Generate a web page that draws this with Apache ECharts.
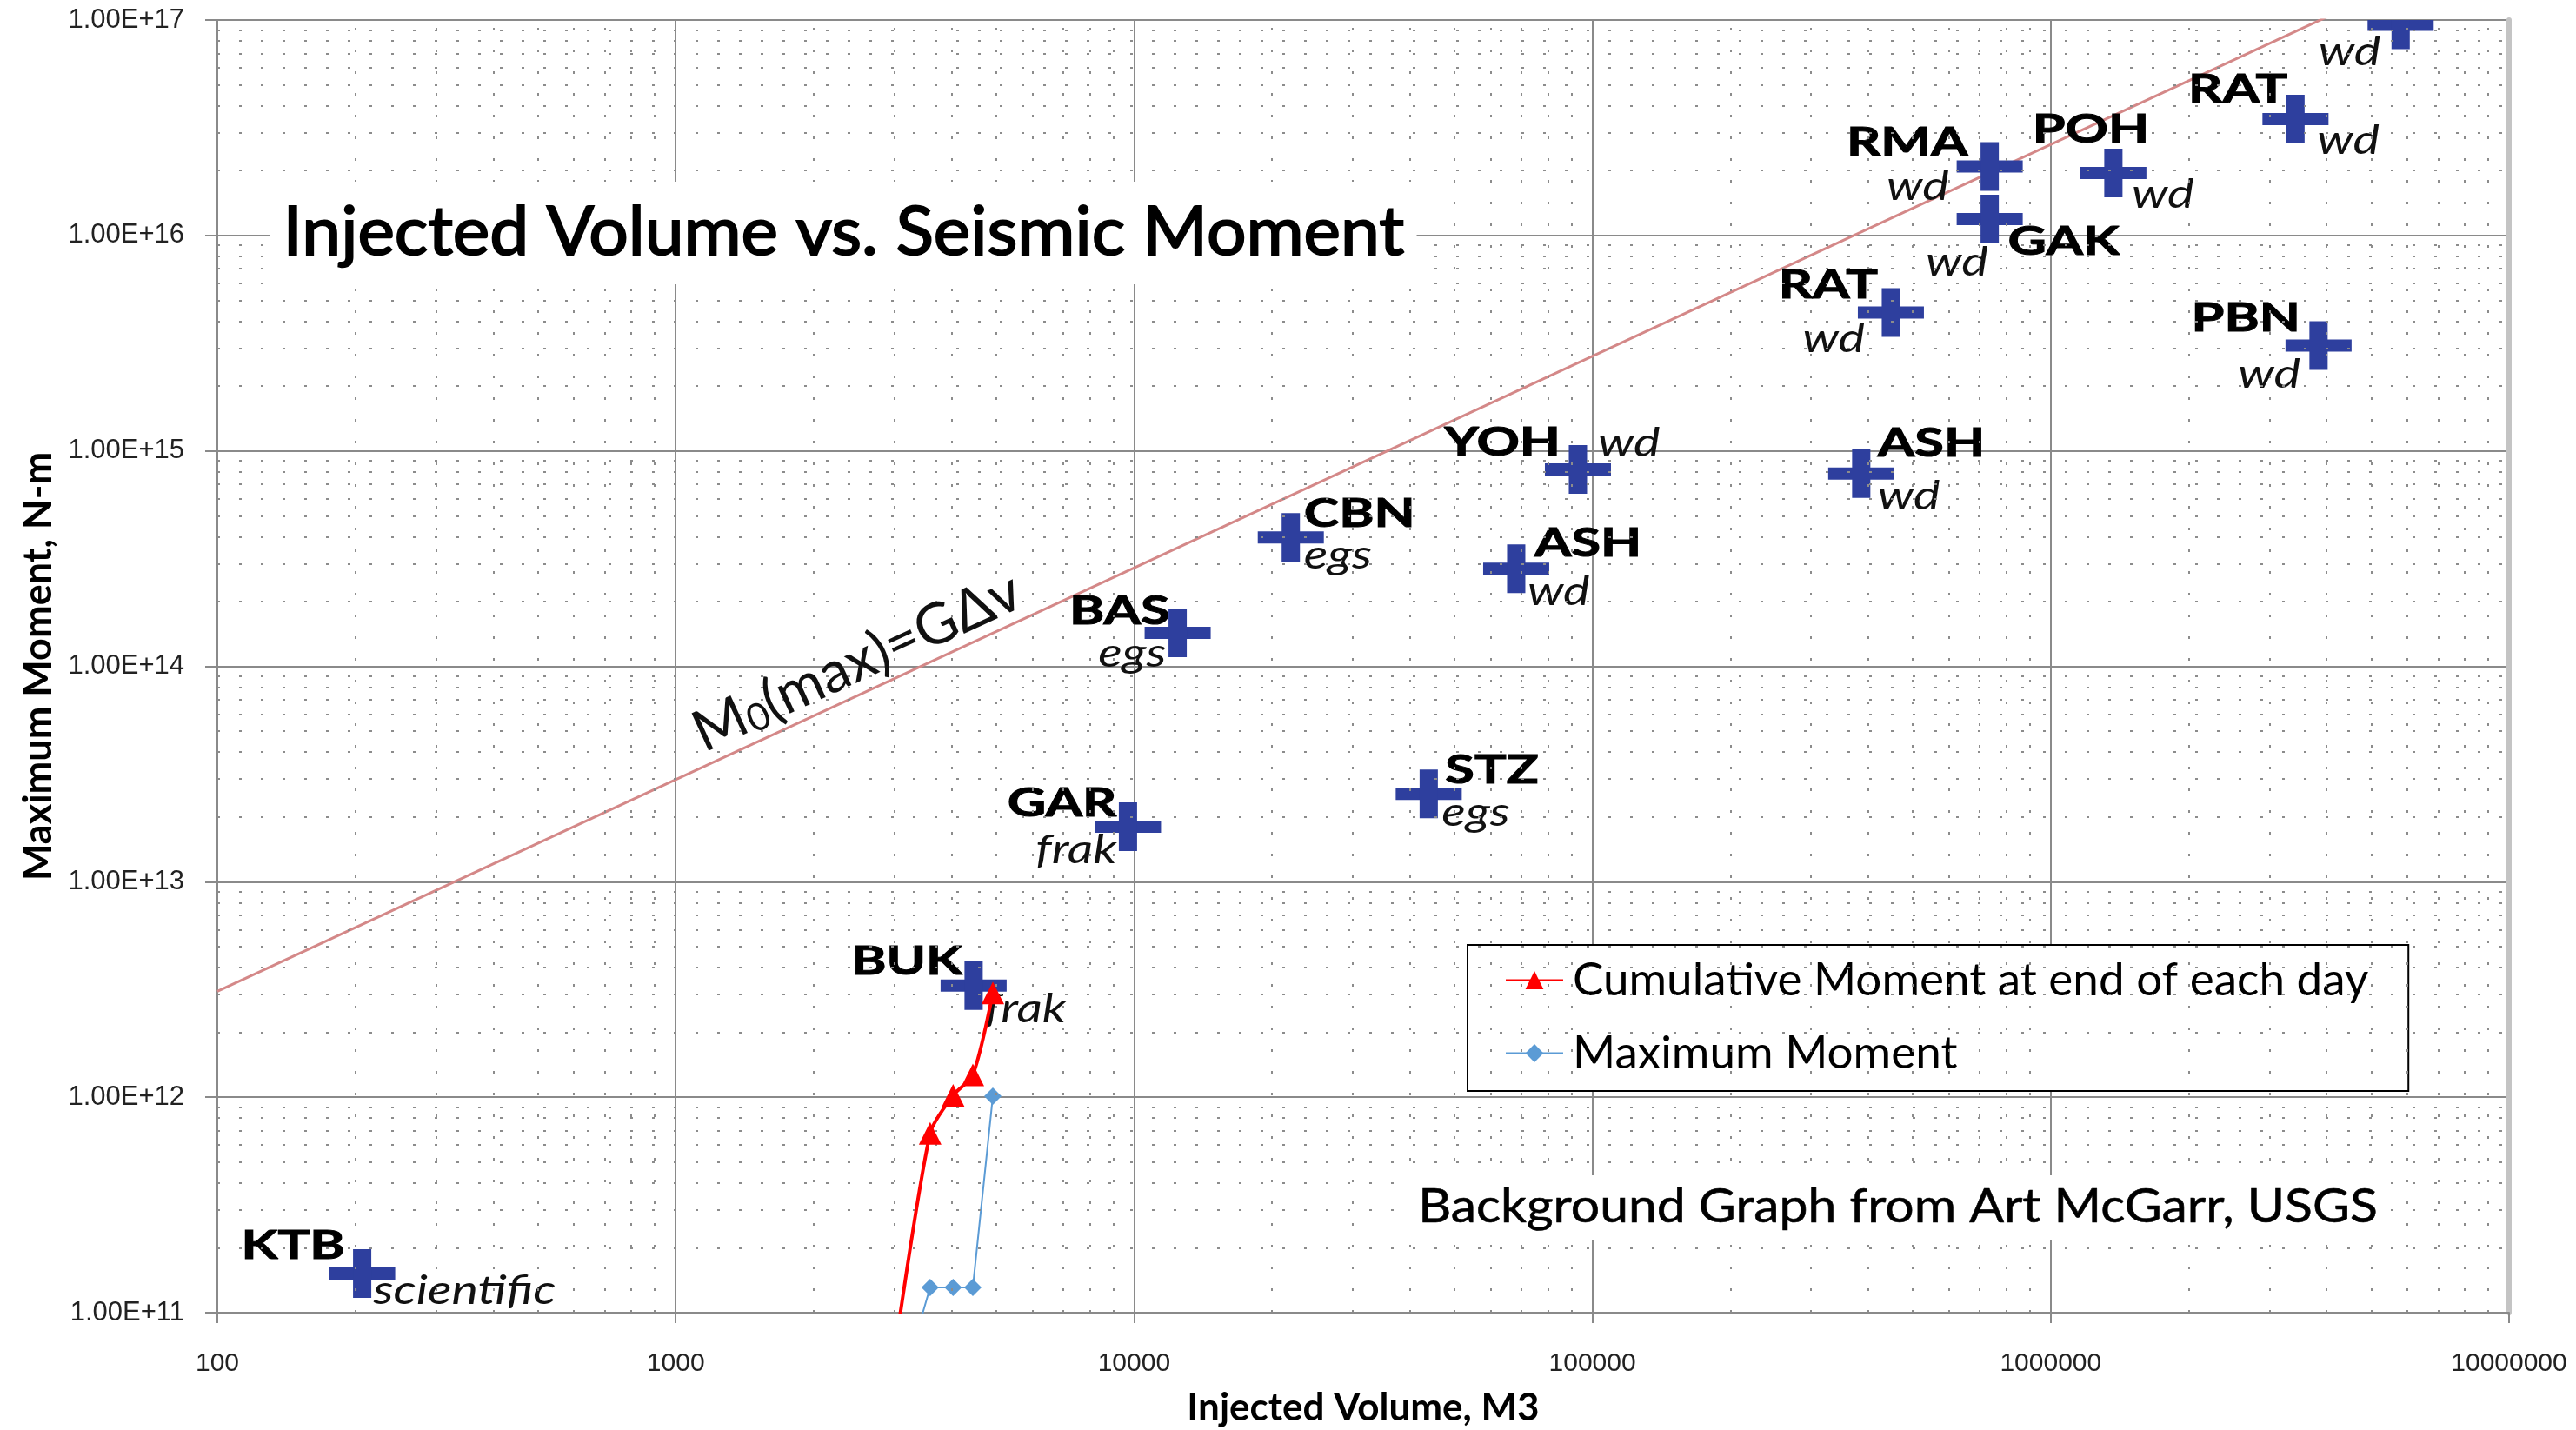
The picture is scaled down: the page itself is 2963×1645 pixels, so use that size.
<!DOCTYPE html>
<html>
<head>
<meta charset="utf-8">
<title>Injected Volume vs. Seismic Moment</title>
<script src="https://cdn.jsdelivr.net/npm/echarts@6/dist/echarts.min.js"></script>
<style>
  html, body { margin: 0; padding: 0; background: #fff; }
  #chart { width: 2963px; height: 1645px; }
</style>
</head>
<body>
<div id="chart"></div>
<script>
// sites on the background graph (McGarr)
const siteNames = ['KTB', 'BUK', 'GAR', 'BAS', 'CBN', 'STZ', 'ASH', 'YOH', 'ASH', 'RAT', 'GAK', 'RMA', 'POH', 'RAT', 'PBN', ''];
const siteTypes = ['scientific', 'frak', 'frak', 'egs', 'egs', 'egs', 'wd', 'wd', 'wd', 'wd', 'wd', 'wd', 'wd', 'wd', 'wd', 'wd'];
const siteVolume = [207, 4467, 9700, 12450, 21980, 43950, 68200, 93000, 386000, 448000, 736000, 736000, 1370000, 3420000, 3840000, 5800000];
const siteMoment = [1.52e11, 3.3e12, 1.8e13, 1.43e14, 3.96e14, 2.56e13, 2.84e14, 8.2e14, 7.85e14, 4.39e15, 1.19e16, 2.09e16, 1.95e16, 3.47e16, 3.08e15, 9.5e16];

// daily values
const cumVolume = [2950, 3590, 4030, 4450, 4920];
const cumMoment = [5e10, 6.8e11, 1.02e12, 1.27e12, 3.05e12];
const maxVolume = [3150, 3590, 4030, 4450, 4920];
const maxMoment = [5e10, 1.31e11, 1.31e11, 1.31e11, 1.01e12];

// M0(max) = G dV limit line
const limitVolume = [100, 1e7];
const limitMoment = [3.1e12, 2.54e17];

// axis decades and the 2..9 minor lines
const xDecades = [100, 1000, 10000, 100000, 1000000];
const yDecades = [1e11, 1e12, 1e13, 1e14, 1e15, 1e16];
const minorSteps = [2, 3, 4, 5, 6, 7, 8, 9];

// label placement around each cross: [name align, dx, dy, type align, dx, dy]
const labelLayout = [
  ['right', -20, -31, 'left', 13, 20],
  ['right', -13, -27, 'left', 13, 28],
  ['right', -13, -27, 'right', -13, 27],
  ['right', -9, -25, 'right', -13, 24],
  ['left', 15, -27, 'left', 15, 21],
  ['left', 19, -27, 'left', 15, 22],
  ['left', 21, -29, 'left', 13, 27],
  ['right', -20, -31, 'left', 23, -30],
  ['left', 19, -34, 'left', 19, 26],
  ['right', -15, -31, 'right', -30, 31],
  ['left', 21, 26, 'right', -2, 50],
  ['right', -25, -27, 'right', -47, 24],
  ['center', -26, -49, 'left', 21, 25],
  ['right', -9, -33, 'left', 25, 25],
  ['right', -21, -31, 'right', -21, 34],
  ['right', 0, 0, 'right', -23, 32]
];

const crossColor = '#2E3F9E';
const gridColor = '#8a8a8a';

const minorLines = [];
xDecades.forEach(d => minorSteps.forEach(s => minorLines.push({ xAxis: d * s })));
yDecades.forEach(d => minorSteps.forEach(s => minorLines.push({ yAxis: d * s })));

function renderSite(params, api) {
  const c = api.coord([api.value(0), api.value(1)]);
  const i = params.dataIndex;
  const L = labelLayout[i];
  const kids = [
    { type: 'rect', shape: { x: c[0] - 38, y: c[1] - 7, width: 76, height: 14 }, style: { fill: crossColor } },
    { type: 'rect', shape: { x: c[0] - 10.5, y: c[1] - 28, width: 21, height: 56 }, style: { fill: crossColor } }
  ];
  if (siteNames[i]) {
    kids.push({
      type: 'text', x: c[0] + L[1], y: c[1] + L[2], scaleX: 1.36,
      style: { text: siteNames[i], fontFamily: 'Lato', fontWeight: 'bold', fontSize: 45, fill: '#000',
        stroke: '#000', lineWidth: 1, align: L[0], verticalAlign: 'middle' }
    });
  }
  kids.push({
    type: 'text', x: c[0] + L[4], y: c[1] + L[5], scaleX: 1.25,
    style: { text: siteTypes[i], fontFamily: 'Lato', fontStyle: 'italic', fontSize: 46, fill: '#111', align: L[3], verticalAlign: 'middle' }
  });
  return { type: 'group', children: kids };
}

const chart = echarts.init(document.getElementById('chart'));

chart.setOption({
  animation: false,
  backgroundColor: '#fff',
  grid: { left: 250, right: 77, top: 23, bottom: 135, containLabel: false, outerBoundsMode: 'none' },
  legend: {
    data: ['Cumulative Moment at end of each day', 'Maximum Moment'],
    orient: 'vertical',
    left: 1688,
    top: 1087,
    padding: [14, 46, 17, 43],
    itemGap: 31,
    itemWidth: 66,
    itemHeight: 26,
    backgroundColor: '#fff',
    borderColor: '#000',
    borderWidth: 2,
    selectedMode: false,
    textStyle: { fontFamily: 'Lato', fontSize: 53, lineHeight: 50, color: '#000', padding: [0, 0, 0, 6] }
  },
  xAxis: {
    type: 'log',
    logBase: 10,
    min: 100,
    max: 1e7,
    splitNumber: 5,
    name: 'Injected Volume, M3',
    nameLocation: 'middle',
    nameGap: 88,
    nameTextStyle: { fontFamily: 'Lato', fontWeight: 'bold', fontSize: 44, color: '#000' },
    axisLine: { lineStyle: { color: gridColor, width: 2 } },
    axisTick: { show: true, length: 12, lineStyle: { color: gridColor, width: 2 } },
    axisLabel: { fontFamily: 'Liberation Sans', fontSize: 30, color: '#222', margin: 44, formatter: v => String(Math.round(v)) },
    splitLine: { show: true, lineStyle: { color: gridColor, width: 2 } }
  },
  yAxis: [{
    type: 'log',
    logBase: 10,
    min: 1e11,
    max: 1e17,
    splitNumber: 6,
    name: 'Maximum Moment, N-m',
    nameLocation: 'middle',
    nameGap: 183,
    nameTextStyle: { fontFamily: 'Lato', fontWeight: 'bold', fontSize: 45, color: '#000' },
    axisLine: { show: true, lineStyle: { color: gridColor, width: 2 } },
    axisTick: { show: true, length: 14, lineStyle: { color: gridColor, width: 2 } },
    axisLabel: { fontFamily: 'Liberation Sans', fontSize: 31, color: '#222', margin: 38, formatter: v => v.toExponential(2).toUpperCase() },
    splitLine: { show: true, lineStyle: { color: gridColor, width: 2 } }
  }, {
    type: 'log',
    logBase: 10,
    min: 1e11,
    max: 1e17,
    position: 'right',
    axisLine: { show: true, lineStyle: { color: '#c4c4c4', width: 6 } },
    axisTick: { show: false },
    axisLabel: { show: false },
    splitLine: { show: false }
  }],
  graphic: { elements: [
    {
      type: 'text', x: 311, y: 268, scaleX: 1.03, z: 10,
      style: { text: 'Injected Volume vs. Seismic Moment', fontFamily: 'Lato', fontSize: 78, fill: '#000',
        stroke: '#000', lineWidth: 2, align: 'left', verticalAlign: 'middle', backgroundColor: '#fff', padding: [20, 14] }
    },
    {
      type: 'text', x: 2183, y: 1389, scaleX: 1.09, z: 10,
      style: { text: 'Background Graph from Art McGarr, USGS', fontFamily: 'Lato', fontSize: 54, fill: '#000',
        stroke: '#000', lineWidth: 0.6, align: 'center', verticalAlign: 'middle', backgroundColor: '#fff', padding: [10, 12] }
    },
    {
      type: 'text', x: 985, y: 760, rotation: 0.43, z: 10,
      style: {
        text: '{m|M}{s|0}{m|(max)=G\u0394v}', align: 'center', verticalAlign: 'middle', fill: '#111',
        rich: {
          m: { fontFamily: 'Lato', fontSize: 66, lineHeight: 70, verticalAlign: 'bottom', fill: '#111' },
          s: { fontFamily: 'Lato', fontSize: 44, lineHeight: 44, verticalAlign: 'bottom', fill: '#111' }
        }
      }
    }
  ] },
  series: [
    {
      name: 'minor grid',
      type: 'line',
      data: [],
      silent: true,
      z: 1,
      markLine: {
        silent: true,
        symbol: ['none', 'none'],
        label: { show: false },
        emphasis: { disabled: true },
        lineStyle: { color: '#8c8c8c', width: 2, type: [3, 22] },
        data: minorLines
      }
    },
    {
      name: 'limit',
      type: 'line',
      data: limitVolume.map((v, i) => [v, limitMoment[i]]),
      symbol: 'none',
      silent: true,
      z: 2,
      lineStyle: { color: '#D48888', width: 3 }
    },
    {
      name: 'sites',
      type: 'custom',
      clip: true,
      z: 3,
      data: siteVolume.map((v, i) => [v, siteMoment[i]]),
      encode: { x: 0, y: 1 },
      renderItem: renderSite
    },
    {
      name: 'Cumulative Moment at end of each day',
      type: 'line',
      data: cumVolume.map((v, i) => [v, cumMoment[i]]),
      symbol: 'triangle',
      symbolSize: 26,
      showAllSymbol: true,
      smooth: 0.25,
      z: 5,
      lineStyle: { color: '#FF0000', width: 4 },
      itemStyle: { color: '#FF0000' }
    },
    {
      name: 'Maximum Moment',
      type: 'line',
      data: maxVolume.map((v, i) => [v, maxMoment[i]]),
      symbol: 'diamond',
      symbolSize: 20,
      showAllSymbol: true,
      z: 4,
      lineStyle: { color: '#5B9BD5', width: 2 },
      itemStyle: { color: '#5B9BD5' }
    }
  ]
});
</script>
</body>
</html>
